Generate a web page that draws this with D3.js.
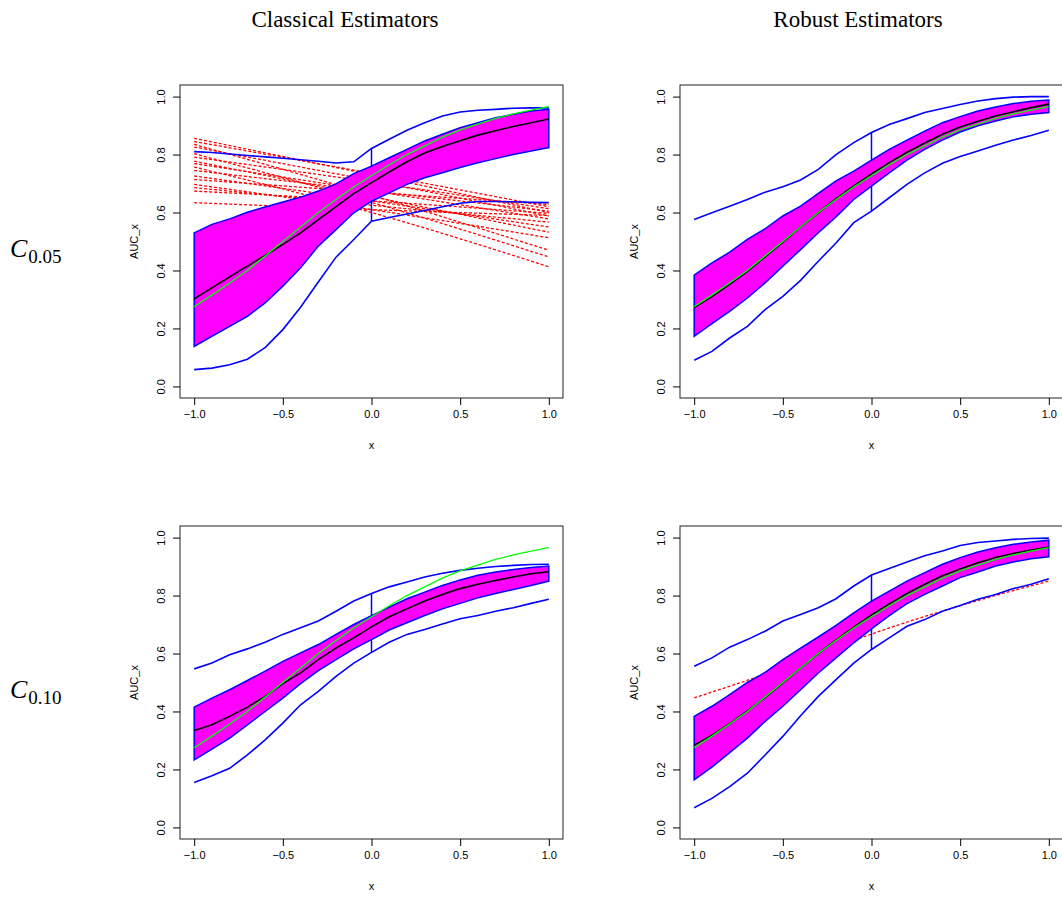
<!DOCTYPE html>
<html>
<head>
<meta charset="utf-8">
<script src="https://cdn.jsdelivr.net/npm/d3@7"></script>
<style>
    body { margin: 0; background: #fff; }
    svg { display: block; }
    .tick text { font-family: "Liberation Sans", Arial, sans-serif; font-size: 11px; }
</style>
</head>
<body>
<div id="app"></div>
<script>
"use strict";

// x grid of the curves
const xGrid = [-1, -0.9, -0.8, -0.7, -0.6, -0.5, -0.4, -0.3, -0.2, -0.1, 0, 0.1, 0.2, 0.3, 0.4, 0.5, 0.6, 0.7, 0.8, 0.9, 1];

// true AUC curve (green), same in every panel
const trueAuc = [0.275, 0.315, 0.357, 0.40, 0.45, 0.50, 0.55, 0.60, 0.645, 0.688, 0.727, 0.765, 0.80, 0.83, 0.86, 0.885, 0.905, 0.925, 0.94, 0.953, 0.965];

// classical, C0.05
const cls05Max    = [0.81, 0.807, 0.802, 0.797, 0.792, 0.787, 0.782, 0.777, 0.771, 0.775, 0.821, 0.853, 0.884, 0.91, 0.933, 0.947, 0.953, 0.956, 0.96, 0.961, 0.961];
const cls05Min    = [0.058, 0.063, 0.075, 0.094, 0.134, 0.196, 0.273, 0.36, 0.446, 0.507, 0.57, 0.583, 0.595, 0.607, 0.62, 0.632, 0.638, 0.638, 0.637, 0.635, 0.634];
const cls05Upper  = [0.53, 0.559, 0.578, 0.601, 0.619, 0.636, 0.653, 0.674, 0.699, 0.734, 0.76, 0.789, 0.818, 0.847, 0.87, 0.893, 0.91, 0.927, 0.939, 0.95, 0.956];
const cls05Lower  = [0.138, 0.173, 0.207, 0.242, 0.288, 0.346, 0.409, 0.484, 0.541, 0.599, 0.639, 0.668, 0.697, 0.72, 0.737, 0.755, 0.772, 0.786, 0.80, 0.812, 0.824];
const cls05Median = [0.302, 0.34, 0.378, 0.415, 0.452, 0.49, 0.53, 0.575, 0.62, 0.665, 0.703, 0.74, 0.775, 0.805, 0.828, 0.848, 0.867, 0.882, 0.897, 0.91, 0.923];

// robust, C0.05
const rob05Max    = [0.576, 0.599, 0.622, 0.645, 0.67, 0.689, 0.712, 0.749, 0.80, 0.841, 0.876, 0.904, 0.924, 0.945, 0.959, 0.973, 0.985, 0.993, 0.998, 1.0, 1.0];
const rob05Min    = [0.09, 0.121, 0.167, 0.207, 0.265, 0.311, 0.366, 0.432, 0.495, 0.565, 0.605, 0.651, 0.697, 0.737, 0.77, 0.793, 0.812, 0.832, 0.85, 0.866, 0.884];
const rob05Upper  = [0.384, 0.426, 0.463, 0.507, 0.544, 0.588, 0.622, 0.666, 0.709, 0.743, 0.781, 0.818, 0.85, 0.881, 0.91, 0.931, 0.95, 0.964, 0.976, 0.984, 0.988];
const rob05Lower  = [0.173, 0.217, 0.259, 0.305, 0.357, 0.415, 0.472, 0.53, 0.585, 0.645, 0.691, 0.737, 0.781, 0.818, 0.85, 0.878, 0.899, 0.916, 0.93, 0.939, 0.945];
const rob05Median = [0.272, 0.31, 0.352, 0.397, 0.447, 0.498, 0.55, 0.60, 0.648, 0.692, 0.733, 0.772, 0.808, 0.84, 0.87, 0.895, 0.915, 0.933, 0.948, 0.962, 0.974];

// classical, C0.10
const cls10Max    = [0.547, 0.567, 0.596, 0.616, 0.639, 0.666, 0.689, 0.712, 0.746, 0.781, 0.807, 0.83, 0.847, 0.864, 0.877, 0.887, 0.894, 0.90, 0.904, 0.907, 0.908];
const cls10Min    = [0.155, 0.178, 0.204, 0.25, 0.302, 0.36, 0.423, 0.469, 0.521, 0.567, 0.604, 0.639, 0.666, 0.683, 0.702, 0.72, 0.731, 0.746, 0.758, 0.773, 0.787];
const cls10Upper  = [0.415, 0.446, 0.475, 0.507, 0.539, 0.573, 0.602, 0.631, 0.666, 0.70, 0.731, 0.76, 0.789, 0.812, 0.835, 0.854, 0.87, 0.881, 0.89, 0.897, 0.902];
const cls10Lower  = [0.233, 0.27, 0.308, 0.354, 0.40, 0.446, 0.496, 0.541, 0.579, 0.616, 0.648, 0.681, 0.706, 0.731, 0.754, 0.773, 0.792, 0.807, 0.821, 0.835, 0.85];
const cls10Median = [0.334, 0.354, 0.383, 0.415, 0.452, 0.496, 0.533, 0.579, 0.619, 0.654, 0.692, 0.727, 0.754, 0.781, 0.804, 0.824, 0.839, 0.852, 0.864, 0.875, 0.882];

// robust, C0.10
const rob10Max    = [0.556, 0.585, 0.622, 0.648, 0.677, 0.712, 0.735, 0.758, 0.789, 0.833, 0.871, 0.893, 0.916, 0.937, 0.954, 0.973, 0.983, 0.988, 0.994, 0.997, 0.998];
const rob10Min    = [0.068, 0.10, 0.141, 0.187, 0.25, 0.314, 0.385, 0.452, 0.51, 0.567, 0.614, 0.654, 0.694, 0.717, 0.746, 0.766, 0.787, 0.804, 0.824, 0.839, 0.858];
const rob10Upper  = [0.383, 0.418, 0.458, 0.50, 0.535, 0.579, 0.619, 0.657, 0.697, 0.74, 0.781, 0.815, 0.85, 0.879, 0.908, 0.931, 0.95, 0.965, 0.977, 0.985, 0.991];
const rob10Lower  = [0.164, 0.208, 0.258, 0.308, 0.366, 0.418, 0.475, 0.533, 0.585, 0.637, 0.685, 0.731, 0.772, 0.804, 0.833, 0.862, 0.881, 0.902, 0.916, 0.927, 0.934];
const rob10Median = [0.284, 0.318, 0.358, 0.402, 0.449, 0.499, 0.55, 0.60, 0.647, 0.691, 0.733, 0.771, 0.807, 0.839, 0.868, 0.892, 0.913, 0.931, 0.945, 0.957, 0.967];

// outlying curves (red dashed)
const outX3 = [-1, 0, 1];
const cls05Outliers = [
    [0.856, 0.73, 0.60],
    [0.845, 0.735, 0.62],
    [0.835, 0.66, 0.47],
    [0.826, 0.71, 0.588],
    [0.803, 0.635, 0.447],
    [0.791, 0.705, 0.613],
    [0.777, 0.655, 0.532],
    [0.769, 0.675, 0.578],
    [0.757, 0.60, 0.413],
    [0.745, 0.675, 0.605],
    [0.726, 0.64, 0.55],
    [0.714, 0.67, 0.628],
    [0.697, 0.61, 0.513],
    [0.686, 0.625, 0.567],
    [0.674, 0.64, 0.597],
    [0.634, 0.61, 0.59]
];
const outX5 = [-1, -0.5, 0, 0.5, 1];
const rob10Outliers = [
    [0.447, 0.55, 0.667, 0.765, 0.85]
];

const xTicks = [-1, -0.5, 0, 0.5, 1];
const yTicks = [0, 0.2, 0.4, 0.6, 0.8, 1];
const colTitles = ["Classical Estimators", "Robust Estimators"];
const rowLabels = ["0.05", "0.10"];

const panels = [
    { col: 0, row: 0, max: cls05Max, min: cls05Min, upper: cls05Upper, lower: cls05Lower, median: cls05Median, outX: outX3, outliers: cls05Outliers },
    { col: 1, row: 0, max: rob05Max, min: rob05Min, upper: rob05Upper, lower: rob05Lower, median: rob05Median, outX: outX3, outliers: [] },
    { col: 0, row: 1, max: cls10Max, min: cls10Min, upper: cls10Upper, lower: cls10Lower, median: cls10Median, outX: outX3, outliers: [] },
    { col: 1, row: 1, max: rob10Max, min: rob10Min, upper: rob10Upper, lower: rob10Lower, median: rob10Median, outX: outX5, outliers: rob10Outliers }
];

const W = 1062, H = 897;
const plotW = 383, plotH = 313;
const colLeft = [180, 680];
const rowTop = [85, 526];

const svg = d3.select("#app").append("svg").attr("width", W).attr("height", H);

// column titles
colTitles.forEach((t, i) => {
    svg.append("text")
        .attr("x", [345, 858][i]).attr("y", 27)
        .attr("text-anchor", "middle")
        .style("font-family", "'Liberation Serif', serif")
        .style("font-size", "23px")
        .text(t);
});

// row labels C_{0.05}, C_{0.10}
rowLabels.forEach((t, i) => {
    const lbl = svg.append("text")
        .attr("x", 10).attr("y", 257 + i * 441)
        .style("font-family", "'Liberation Serif', serif");
    lbl.append("tspan").style("font-style", "italic").style("font-size", "26px").text("C");
    lbl.append("tspan").attr("dy", 6).attr("dx", 1).style("font-size", "19px").text(t);
});

function drawPanel(p) {
    const x0 = colLeft[p.col], y0 = rowTop[p.row];
    const x = d3.scaleLinear().domain([-1.08, 1.08]).range([x0, x0 + plotW]);
    const y = d3.scaleLinear().domain([-0.04, 1.04]).range([y0 + plotH, y0]);
    const g = svg.append("g");

    const line = d3.line().x((d, i) => x(xGrid[i])).y(d => y(d));

    // outlying curves
    const outLine = d3.line().x((d, i) => x(p.outX[i])).y(d => y(d)).curve(d3.curveMonotoneX);
    g.selectAll("path.out").data(p.outliers).enter().append("path")
        .attr("class", "out")
        .attr("d", outLine)
        .attr("fill", "none").attr("stroke", "#ff0000")
        .attr("stroke-width", 1.3).attr("stroke-dasharray", "3,2");

    // 50% central region
    const area = d3.area()
        .x((d, i) => x(xGrid[i]))
        .y0((d, i) => y(p.lower[i]))
        .y1((d, i) => y(p.upper[i]));
    g.append("path").attr("d", area(xGrid))
        .attr("fill", "#ff00ff").attr("stroke", "#0000ff").attr("stroke-width", 1.5);

    // envelopes
    [p.max, p.min].forEach(arr => {
        g.append("path").attr("d", line(arr))
            .attr("fill", "none").attr("stroke", "#0000ff").attr("stroke-width", 1.6);
    });

    // whiskers at the middle of the grid
    const mid = xGrid.indexOf(0);
    [[p.upper[mid], p.max[mid]], [p.lower[mid], p.min[mid]]].forEach(([a, b]) => {
        g.append("line")
            .attr("x1", x(0)).attr("x2", x(0))
            .attr("y1", y(a)).attr("y2", y(b))
            .attr("stroke", "#0000ff").attr("stroke-width", 1.5);
    });

    // median and true curve
    g.append("path").attr("d", line(p.median))
        .attr("fill", "none").attr("stroke", "#000").attr("stroke-width", 1.6);
    g.append("path").attr("d", line(trueAuc))
        .attr("fill", "none").attr("stroke", "#00ff00").attr("stroke-width", 1.3);

    // box
    g.append("rect")
        .attr("x", x0).attr("y", y0).attr("width", plotW).attr("height", plotH)
        .attr("fill", "none").attr("stroke", "#222").attr("stroke-width", 1);

    // axes
    const xAxis = g.append("g")
        .attr("transform", `translate(0,${y0 + plotH})`)
        .call(d3.axisBottom(x).tickValues(xTicks).tickSize(7).tickPadding(5)
            .tickFormat(d => d3.format(".1f")(d).replace("-", "\u2212")));
    xAxis.select(".domain").remove();
    xAxis.selectAll(".tick text").attr("fill", "#000");

    const yAxis = g.append("g")
        .attr("transform", `translate(${x0},0)`)
        .call(d3.axisLeft(y).tickValues(yTicks).tickSize(7).tickFormat(d3.format(".1f")));
    yAxis.select(".domain").remove();
    yAxis.selectAll(".tick text")
        .attr("x", null).attr("dy", null)
        .attr("text-anchor", "middle")
        .attr("transform", "translate(-15,0) rotate(-90)")
        .attr("fill", "#000");

    // axis titles
    g.append("text")
        .attr("x", x(0)).attr("y", y0 + plotH + 51)
        .attr("text-anchor", "middle")
        .style("font-family", "'Liberation Sans', Arial, sans-serif").style("font-size", "11px")
        .text("x");
    g.append("text")
        .attr("transform", `translate(${x0 - 42.5},${y0 + plotH / 2}) rotate(-90)`)
        .attr("text-anchor", "middle")
        .style("font-family", "'Liberation Sans', Arial, sans-serif").style("font-size", "11px")
        .text("AUC_x");
}

panels.forEach(drawPanel);
</script>
</body>
</html>
